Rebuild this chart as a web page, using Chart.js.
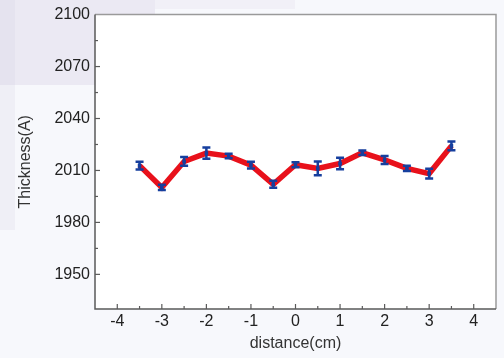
<!DOCTYPE html>
<html lang="en">
<head>
    <meta charset="UTF-8">
    <title>Thickness vs distance</title>
    <script src="https://cdn.jsdelivr.net/npm/chart.js"></script>
    <style>
        html, body { margin: 0; padding: 0; background: #f7f8fc; }
        #wrap { width: 504px; height: 358px; }
    </style>
</head>
<body>
    <div id="wrap"><canvas id="thicknessChart" width="504" height="358"></canvas></div>

    <script>
        // values
        const distance = [-3.5, -3, -2.5, -2, -1.5, -1, -0.5, 0, 0.5, 1, 1.5, 2, 2.5, 3, 3.5];
        const thickness = [2012.8, 2000.2, 2015.2, 2020.0, 2018.3, 2013.1, 2002.0, 2013.3, 2011.2, 2014.0, 2020.2, 2016.1, 2011.2, 2008.2, 2024.2];
        const thicknessErr = [2.3, 1.5, 2.5, 3.2, 1.3, 2.0, 2.0, 1.5, 4.0, 3.3, 1.3, 2.3, 1.5, 2.8, 2.5];

        const font = { family: '"Liberation Sans", Arial, sans-serif', size: 16 };

        // page background and frame of the plot
        const backdrop = {
            id: 'backdrop',
            beforeDraw(chart) {
                const ctx = chart.ctx;
                const a = chart.chartArea;
                ctx.save();
                ctx.fillStyle = '#f7f8fc';
                ctx.fillRect(0, 0, chart.width, chart.height);
                ctx.fillStyle = '#ebe9f3';
                ctx.fillRect(0, 0, 155, 85);
                ctx.fillStyle = '#e5e3ef';
                ctx.fillRect(0, 0, 15, 85);
                ctx.fillStyle = '#efeff6';
                ctx.fillRect(0, 85, 15, 145);
                ctx.fillStyle = '#f1f0f7';
                ctx.fillRect(155, 0, 140, 9);
                ctx.fillStyle = '#ffffff';
                ctx.fillRect(a.left, a.top, a.right - a.left, a.bottom - a.top);
                ctx.restore();
            },
            afterDraw(chart) {
                const ctx = chart.ctx;
                const a = chart.chartArea;
                const xs = chart.scales.x, ys = chart.scales.y;
                ctx.save();
                ctx.lineWidth = 1.5;
                ctx.strokeStyle = '#9a9a9a';
                ctx.beginPath();
                ctx.moveTo(a.left, a.top);
                ctx.lineTo(a.right, a.top);
                ctx.lineTo(a.right, a.bottom);
                ctx.stroke();
                ctx.strokeStyle = '#5a5a5a';
                ctx.beginPath();
                ctx.moveTo(a.left, a.top);
                ctx.lineTo(a.left, a.bottom);
                ctx.lineTo(a.right, a.bottom);
                ctx.stroke();
                // inward tick marks
                ctx.lineWidth = 1.2;
                ys.ticks.forEach(t => {
                    if (t.value <= ys.min || t.value >= ys.max) return;
                    const y = ys.getPixelForValue(t.value);
                    const len = t.value % 30 === 0 ? 5 : 3;
                    ctx.beginPath();
                    ctx.moveTo(a.left, y);
                    ctx.lineTo(a.left + len, y);
                    ctx.stroke();
                });
                xs.ticks.forEach(t => {
                    if (t.value <= xs.min || t.value >= xs.max) return;
                    const x = xs.getPixelForValue(t.value);
                    const len = Number.isInteger(t.value) ? 5 : 3;
                    ctx.beginPath();
                    ctx.moveTo(x, a.bottom);
                    ctx.lineTo(x, a.bottom - len);
                    ctx.stroke();
                });
                ctx.restore();
            }
        };

        // vertical error bars with caps
        const errorBars = {
            id: 'errorBars',
            afterDatasetsDraw(chart) {
                const ctx = chart.ctx;
                const xs = chart.scales.x, ys = chart.scales.y;
                ctx.save();
                ctx.strokeStyle = '#163f9e';
                ctx.lineWidth = 2.5;
                distance.forEach((d, i) => {
                    const x = xs.getPixelForValue(d);
                    const yHi = ys.getPixelForValue(thickness[i] + thicknessErr[i]);
                    const yLo = ys.getPixelForValue(thickness[i] - thicknessErr[i]);
                    ctx.beginPath();
                    ctx.moveTo(x, yHi);
                    ctx.lineTo(x, yLo);
                    ctx.moveTo(x - 4, yHi);
                    ctx.lineTo(x + 4, yHi);
                    ctx.moveTo(x - 4, yLo);
                    ctx.lineTo(x + 4, yLo);
                    ctx.stroke();
                });
                ctx.restore();
            }
        };

        new Chart(document.getElementById('thicknessChart'), {
            type: 'scatter',
            data: {
                datasets: [{
                    data: distance.map((d, i) => ({ x: d, y: thickness[i] })),
                    showLine: true,
                    borderColor: '#e8111b',
                    borderWidth: 5.5,
                    pointStyle: 'rect',
                    pointRadius: 2.5,
                    pointBackgroundColor: '#163f9e',
                    pointBorderWidth: 0,
                }]
            },
            options: {
                responsive: false,
                animation: false,
                events: [],
                layout: { padding: { left: 11, right: 8, top: 13, bottom: 0 } },
                plugins: {
                    legend: { display: false },
                    tooltip: { enabled: false }
                },
                scales: {
                    x: {
                        type: 'linear',
                        min: -4.5,
                        max: 4.5,
                        grid: { display: false, drawTicks: false },
                        border: { display: false },
                        afterBuildTicks: s => { s.ticks = s.ticks.filter(t => t.value > -4.5 && t.value < 4.5); },
                        ticks: {
                            stepSize: 0.5,
                            autoSkip: false,
                            maxRotation: 0,
                            padding: 3,
                            color: '#222',
                            font: font,
                            callback: v => Number.isInteger(v) ? String(v) : ''
                        },
                        title: {
                            display: true,
                            text: 'distance(cm)',
                            color: '#333',
                            font: font,
                            padding: { top: 2, bottom: 5 }
                        },
                        afterFit: s => { s.height = 49; }
                    },
                    y: {
                        min: 1930,
                        max: 2100,
                        grid: { display: false, drawTicks: false },
                        border: { display: false },
                        afterBuildTicks: s => { s.ticks = s.ticks.filter(t => t.value % 15 === 0); },
                        ticks: {
                            stepSize: 15,
                            padding: 5,
                            color: '#222',
                            font: font,
                            callback: v => v % 30 === 0 ? String(v) : ''
                        },
                        title: {
                            display: true,
                            text: 'Thickness(A)',
                            color: '#333',
                            font: font,
                            padding: { top: 5, bottom: 4 }
                        },
                        afterFit: s => { s.width = 84; }
                    }
                }
            },
            plugins: [backdrop, errorBars]
        });
    </script>
</body>
</html>
